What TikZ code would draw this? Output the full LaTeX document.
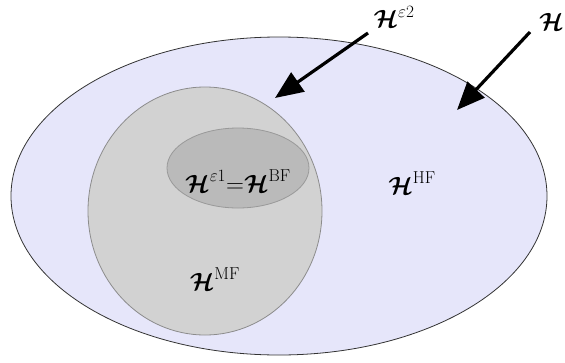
\documentclass[tikz,border=0pt]{standalone}
\usepackage{amsmath, amssymb, bm}
\usetikzlibrary{arrows.meta}
\definecolor{hflav}{RGB}{230,230,250}
\definecolor{mfgray}{RGB}{210,210,210}
\definecolor{bfgray}{RGB}{186,186,186}
\newcommand{\Hs}{\boldsymbol{\mathcal{H}}}
\tikzset{
  setlabel/.style={font=\fontsize{27}{30}\selectfont, inner sep=0pt},
  pointer/.style={-{Triangle[length=28pt,width=23pt]}, line width=3.2pt}
}

\begin{document}
\begin{tikzpicture}[x=1pt, y=-1pt]
  \useasboundingbox (0,0) rectangle (565,362);
  % nested sets
  \draw[fill=hflav, draw=black!80, line width=0.8pt] (279,196) ellipse (268 and 159);
  \draw[fill=mfgray, draw=black!45, line width=0.8pt] (205,211) ellipse (117 and 124);
  \draw[fill=bfgray, draw=black!40, line width=0.8pt] (238,168) ellipse (71 and 40);
  % labels
  \node[setlabel] (bf) at (238,181) {$\Hs^{\varepsilon 1}{=}\Hs^{\mathrm{BF}}$};
  \node[setlabel] (mf) at (215,279) {$\Hs^{\mathrm{MF}}$};
  \node[setlabel] (hf) at (412,183) {$\Hs^{\mathrm{HF}}$};
  \node[setlabel] (eps2) at (394,17) {$\Hs^{\varepsilon 2}$};
  \node[setlabel, anchor=west] (hfout) at (539,22) {$\Hs$};
  % pointers
  \coordinate (mftip) at (275,98);
  \coordinate (hftip) at (457,110);
  \draw[pointer] (368,33) -- (mftip);
  \draw[pointer] (530,32) -- (hftip);
\end{tikzpicture}
\end{document}
